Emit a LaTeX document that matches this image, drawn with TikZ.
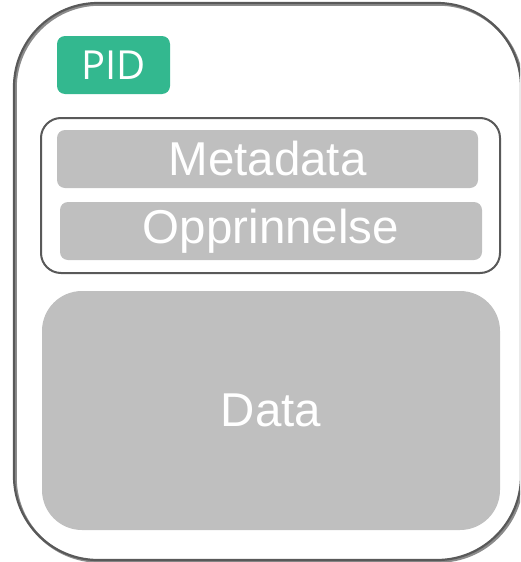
\documentclass[tikz,border=0pt]{standalone}
\usepackage{fontspec}
\setmainfont{Liberation Sans}
\newfontfamily\pidfont{Open Sans}
\definecolor{frame}{HTML}{595959}
\definecolor{barfill}{HTML}{BFBFBF}
\definecolor{pidgreen}{HTML}{33B88F}
\tikzset{
  bar/.style={fill=barfill, draw=none, rounded corners=8pt, text=white, font=\fontsize{47.5}{50}\selectfont, inner sep=0pt},
}
\begin{document}
\begin{tikzpicture}[x=1pt,y=-1pt]
\useasboundingbox (0,0) rectangle (520,562);
\clip (0,0) rectangle (520,562);
% outer container
\draw[draw=frame!70, line width=2.5pt, rounded corners=84pt] (15.5,4.5) rectangle (522.5,561.5);
\draw[draw=frame, line width=2.2pt, rounded corners=84pt] (14,3) rectangle (521,560);
% PID
\node[fill=pidgreen, rounded corners=8pt, minimum width=113pt, minimum height=58pt, inner sep=0pt, text=white, font=\pidfont\fontsize{40}{44}\selectfont] (pid) at (113.5,65) {PID};
% inner frame
\draw[draw=frame, line width=2pt, rounded corners=20pt] (41,118) rectangle (500,273);
\node (innerframe) at (270.5,195.5) {};
% bars
\node[bar, minimum width=421pt, minimum height=58pt] (meta) at (267.5,159) {Metadata};
\node[bar, minimum width=422pt, minimum height=58pt] (opp) at (271,231) {Opprinnelse};
\node[bar, rounded corners=40pt, minimum width=458pt, minimum height=239pt] (data) at (271,410.5) {Data};
\end{tikzpicture}
\end{document}
